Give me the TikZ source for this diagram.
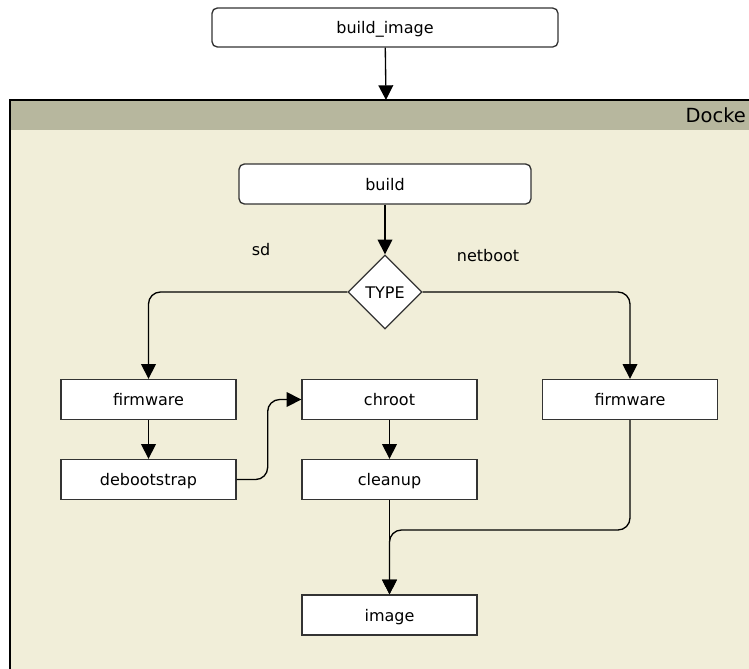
\documentclass[tikz,border=0pt]{standalone}
\usepackage{fontspec}
\setmainfont{DejaVu Sans}
\usetikzlibrary{arrows.meta,shapes.geometric}

\definecolor{dockerhead}{HTML}{B7B79E}
\definecolor{dockerbody}{HTML}{F1EED9}
\definecolor{boxline}{HTML}{333333}

\begin{document}
\begin{tikzpicture}[x=0.75pt, y=-0.75pt, >={Triangle[length=11pt,width=11pt]}, line width=1pt,
    every node/.style={font=\fontsize{12}{14}\selectfont},
    stage/.style={draw=boxline, fill=white, minimum width=131.25pt, minimum height=30pt,
        inner sep=0pt, text height=9pt, text depth=0pt},
    roundstage/.style={stage, rounded corners=4pt},
    choice/.style={diamond, draw=boxline, fill=white, minimum width=55.5pt, minimum height=55.5pt,
        inner sep=0pt, text height=9pt, text depth=0pt}]

    \clip (0,0) rectangle (749,668);

    % Docker container
    \fill[dockerbody] (10,100) rectangle (770,690);
    \fill[dockerhead] (10,100) rectangle (770,130);
    \draw (770,100) -- (10,100) -- (10,690);
    \node[anchor=base west, inner sep=0pt, font=\fontsize{14.6}{17}\selectfont] (docker) at (685,122) {Docke};
    \coordinate (container) at (386,100);

    % build_image
    \node[roundstage, minimum width=259.5pt, minimum height=29.25pt] (buildimage) at (385,27.5) {build\_image};

    % build and TYPE
    \node[roundstage, minimum width=219pt] (build) at (385,184) {build};
    \node[choice] (type) at (385,292) {TYPE};
    \node (sd) at (261,250) {sd};
    \node (netboot) at (488,256) {netboot};

    % sd branch
    \node[stage] (fwsd) at (148.5,399.5) {firmware};
    \node[stage] (debootstrap) at (148.5,479.5) {debootstrap};
    \node[stage] (chroot) at (389.5,399.5) {chroot};
    \node[stage] (cleanup) at (389.5,479.5) {cleanup};

    % netboot branch
    \node[stage] (fwnet) at (630,399.5) {firmware};

    % result
    \node[stage] (image) at (389.5,615) {image};
    \coordinate (merge) at (389.5,530);

    % connectors
    \draw[->] (buildimage) -- (container);
    \draw[->] (build) -- (type);
    \draw[->, rounded corners=9pt] (type.west) -| (fwsd.north);
    \draw[->, rounded corners=9pt] (type.east) -| (fwnet.north);
    \draw[->] (fwsd) -- (debootstrap);
    \draw[->, rounded corners=9pt] (debootstrap.east) -- ++(31,0) |- (chroot.west);
    \draw[->] (chroot) -- (cleanup);
    \draw[->] (cleanup) -- (image);
    \draw[->, rounded corners=9pt] (fwnet.south) |- (merge) -- (image.north);

\end{tikzpicture}
\end{document}
